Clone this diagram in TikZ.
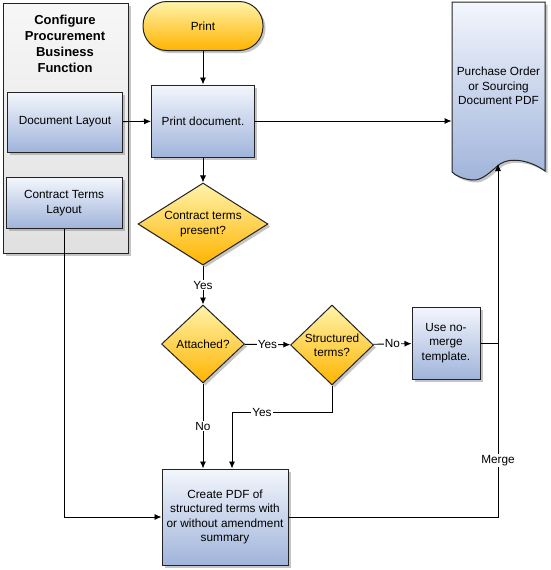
\documentclass[tikz,border=0pt]{standalone}
\usepackage{fontspec}
\setmainfont{Liberation Sans}
\usetikzlibrary{shapes.geometric,shadows,arrows.meta}
\definecolor{boxtop}{RGB}{243,246,252}
\definecolor{boxbot}{RGB}{160,180,219}
\definecolor{dectop}{RGB}{255,243,170}
\definecolor{decbot}{RGB}{255,180,0}
\definecolor{grptop}{RGB}{247,247,247}
\definecolor{grpbot}{RGB}{224,224,224}
\definecolor{edge}{RGB}{35,35,35}
\tikzset{
  shadowed/.style={drop shadow={shadow xshift=2.5pt, shadow yshift=-2.5pt, fill=black!45, opacity=.5}},
  process/.style={draw=edge, line width=1pt, top color=boxtop, bottom color=boxbot, align=center, inner sep=2pt, shadowed},
  decision/.style={diamond, draw=edge, line width=1pt, top color=dectop, bottom color=decbot, align=center, inner sep=0pt, shadowed},
  lbl/.style={fill=white, inner sep=1pt},
}
\begin{document}
\begin{tikzpicture}[>={Latex[length=7pt,width=6pt]}, x=1pt, y=-1pt, font=\fontsize{11.8}{14.3}\selectfont, line width=.9pt]
\useasboundingbox (0,0) rectangle (550,570);
\node[draw=edge, line width=1pt, top color=grptop, bottom color=grpbot, minimum width=125, minimum height=250, shadowed] (grp) at (65.5,128) {};
\node[font=\fontsize{13}{16}\selectfont\bfseries, align=center] (grptitle) at (65,44) {Configure\\Procurement\\Business\\Function};
\node[process, minimum width=115, minimum height=60] (doclay) at (65,122) {Document Layout};
\node[process, minimum width=116, minimum height=51] (ctl) at (64,203) {Contract Terms\\Layout};
\node[draw=edge, line width=1pt, top color=dectop, bottom color=decbot, rounded corners=24pt, minimum width=120, minimum height=49, shadowed] (print) at (203,26) {Print};
\node[process, minimum width=103, minimum height=72] (prnt) at (203,121) {Print document.};
\node[decision, aspect=1.6, minimum width=130, minimum height=82] (ctp) at (203,224) {Contract terms\\present?};
\node[decision, minimum width=83, minimum height=78] (att) at (203,344) {Attached?};
\node[decision, minimum width=83, minimum height=80] (str) at (332,345) {Structured\\terms?};
\node[process, minimum width=68, minimum height=72] (nomerge) at (446,343) {Use no-\\merge\\template.};
\node[process, minimum width=126, minimum height=96] (pdf) at (225,517) {Create PDF of\\structured terms with\\or without amendment\\summary};
\path[draw=edge, line width=1pt, top color=boxtop, bottom color=boxbot, shadowed] (452,2) -- (545,2) -- (545,171) .. controls (530,160) and (510,157) .. (500,164) .. controls (490,172) and (482,181) .. (472,180) .. controls (463,179) and (456,176) .. (452,172) -- cycle;
\node[align=center, minimum width=93, minimum height=168] (podoc) at (498.5,86) {Purchase Order\\or Sourcing\\Document PDF};
\coordinate (wavetop) at (498,164);
\coordinate (yesbend) at (232,412);
\draw[->] (print) -- (prnt);
\draw[->] (doclay) -- (prnt);
\draw[->] (prnt) -- (prnt -| podoc.west);
\draw[->] (prnt) -- (ctp);
\draw[->] (ctp) -- node[lbl]{Yes} (att);
\draw[->] (att) -- node[lbl]{Yes} (str);
\draw[->] (str) -- node[lbl]{No} (nomerge);
\draw[->] (att) -- node[lbl]{No} (att |- pdf.north);
\draw[->] (str.south) |- node[lbl, pos=.85]{Yes} (yesbend) -- (yesbend |- pdf.north);
\draw[->] (ctl.south) |- (pdf.west);
\draw[->] (pdf.east) -| node[lbl, pos=.58]{Merge} (wavetop);
\draw (nomerge) -- (nomerge -| wavetop);
\end{tikzpicture}
\end{document}
